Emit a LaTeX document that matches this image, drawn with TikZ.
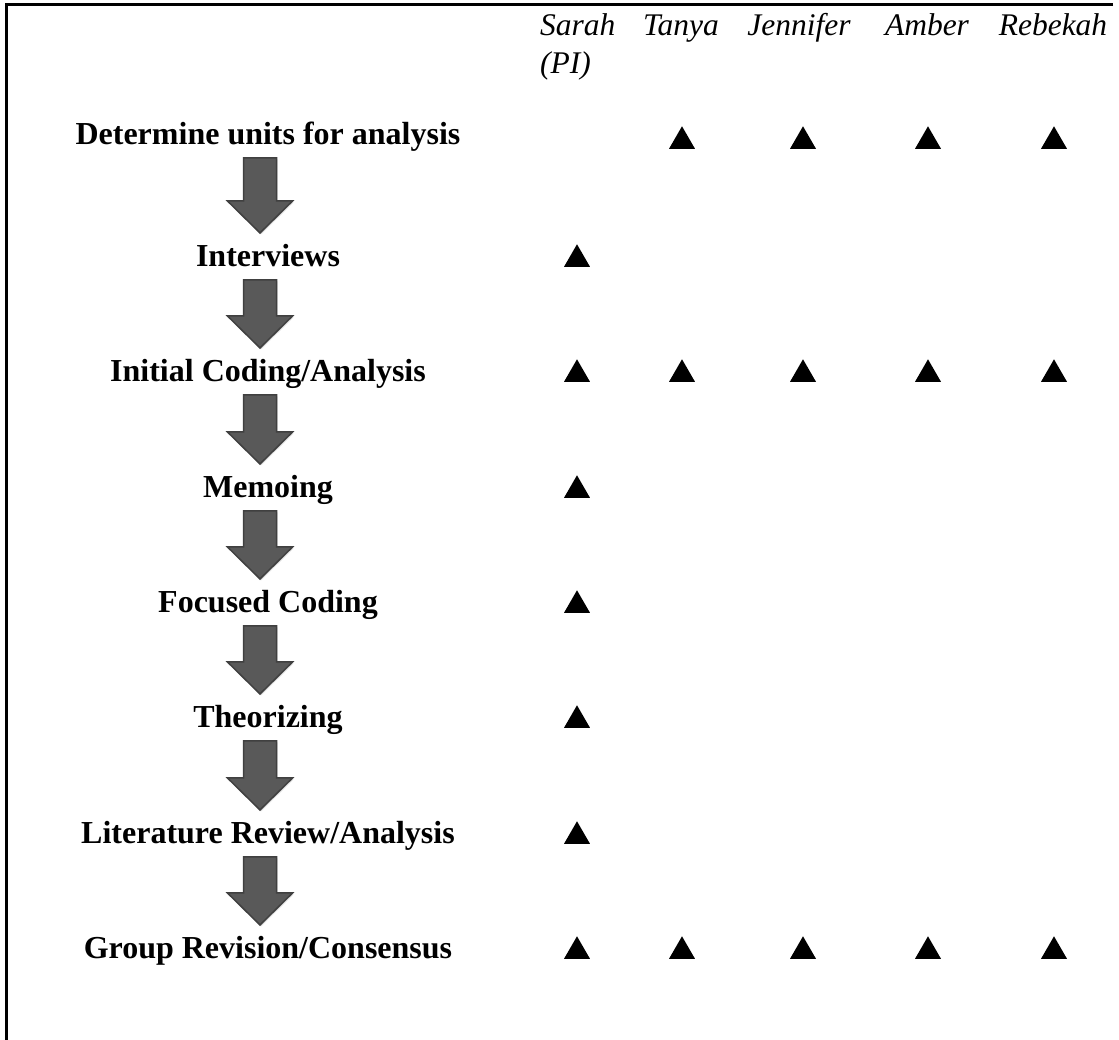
\documentclass[tikz,border=0pt]{standalone}
\usepackage{fontspec}
\setmainfont{Liberation Serif}
\usepackage{tikz}
\usepackage{xcolor}
\usetikzlibrary{calc,shapes.geometric,shadows}
\definecolor{arrowfill}{RGB}{89,89,89}
\definecolor{arrowedge}{RGB}{64,64,64}

\tikzset{
  stage/.style={font=\fontsize{32}{38}\selectfont\bfseries, anchor=base, inner sep=0pt},
  member/.style={font=\fontsize{31.5}{38}\selectfont\itshape, anchor=base, inner sep=0pt},
  tick/.style={regular polygon, regular polygon sides=3, minimum size=30pt, inner sep=0pt, fill=black, anchor=side 2},
  arrowbody/.style={fill=arrowfill, draw=arrowedge, line width=1.5pt, line join=miter,
    drop shadow={opacity=0.25, shadow xshift=1pt, shadow yshift=-1.5pt}}
}

\begin{document}
\begin{tikzpicture}[x=1pt, y=1pt]
  \useasboundingbox (0,0) rectangle (1119,1040);

  % Frame (top and left edge only)
  \draw[line width=3pt, line join=miter] (1113,1035) -- (6.5,1035) -- (6.5,0);

  % Column headers (team members)
  \node[member, anchor=base west] (sarah) at (540, 1004) {Sarah};
  \node[member, anchor=base west] (pi) at (540, 966) {(PI)};
  \node[member] (tanya) at (681, 1004) {Tanya};
  \node[member] (jennifer) at (799, 1004) {Jennifer};
  \node[member] (amber) at (927, 1004) {Amber};
  \node[member] (rebekah) at (1053, 1004) {Rebekah};

  % Analysis stages
  \node[stage] (s1) at (268, 895) {Determine units for analysis};
  \node[stage] (s2) at (268, 773) {Interviews};
  \node[stage] (s3) at (268, 658) {Initial Coding/Analysis};
  \node[stage] (s4) at (268, 542) {Memoing};
  \node[stage] (s5) at (268, 427) {Focused Coding};
  \node[stage] (s6) at (268, 312) {Theorizing};
  \node[stage] (s7) at (268, 196) {Literature Review/Analysis};
  \node[stage] (s8) at (268, 81) {Group Revision/Consensus};

  % Block arrows between stages
  \foreach \a/\b in {s1/s2, s2/s3, s3/s4, s4/s5, s5/s6, s6/s7, s7/s8} {
    \coordinate (top) at ($(\a.base)+(-8,-13)$);
    \coordinate (tip) at ($(\b.base)+(-8,34)$);
    \filldraw[arrowbody] ($(top)+(-16.5,0)$) -- ($(top)+(16.5,0)$) -- ($(tip)+(16.5,32)$)
      -- ($(tip)+(32.5,32)$) -- (tip) -- ($(tip)+(-32.5,32)$) -- ($(tip)+(-16.5,32)$) -- cycle;
  }

  % Participation marks
  % Determine units: Tanya, Jennifer, Amber, Rebekah
  \node[tick] (t1b) at (682, 891) {};
  \node[tick] (t1c) at (803, 891) {};
  \node[tick] (t1d) at (928, 891) {};
  \node[tick] (t1e) at (1054, 891) {};
  % Interviews: Sarah
  \node[tick] (t2a) at (577, 773) {};
  % Initial Coding: all
  \node[tick] (t3a) at (577, 658) {};
  \node[tick] (t3b) at (682, 658) {};
  \node[tick] (t3c) at (803, 658) {};
  \node[tick] (t3d) at (928, 658) {};
  \node[tick] (t3e) at (1054, 658) {};
  % Memoing, Focused Coding, Theorizing, Literature: Sarah
  \node[tick] (t4a) at (577, 542) {};
  \node[tick] (t5a) at (577, 427) {};
  \node[tick] (t6a) at (577, 312) {};
  \node[tick] (t7a) at (577, 196) {};
  % Group Revision: all
  \node[tick] (t8a) at (577, 81) {};
  \node[tick] (t8b) at (682, 81) {};
  \node[tick] (t8c) at (803, 81) {};
  \node[tick] (t8d) at (928, 81) {};
  \node[tick] (t8e) at (1054, 81) {};

\end{tikzpicture}
\end{document}
